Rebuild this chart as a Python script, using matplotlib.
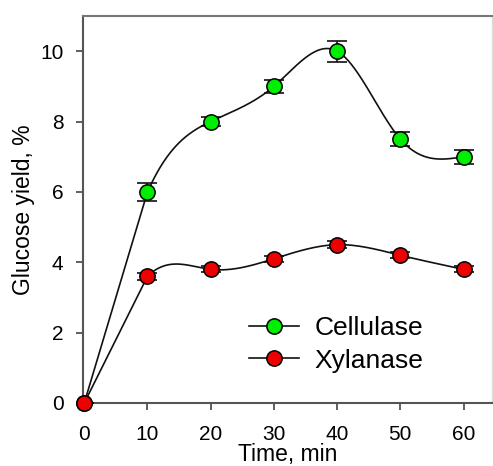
import matplotlib
matplotlib.use("Agg")
import matplotlib.pyplot as plt
import numpy as np

plt.rcParams['font.family'] = ['Liberation Sans', 'DejaVu Sans']

##--- data
time      = [0, 10, 20, 30, 40, 50, 60]
cellulase = [0, 6.0, 8.0, 9.0, 10.0, 7.5, 7.0]
cell_err  = [0, 0.25, 0.12, 0.18, 0.3, 0.2, 0.2]
xylanase  = [0, 3.6, 3.8, 4.1, 4.5, 4.2, 3.8]
xyl_err   = [0, 0.1, 0.08, 0.08, 0.1, 0.08, 0.08]


def curve(x, y, n=300):
    # natural cubic spline through the points (only to draw the line),
    # with the first segment from the origin kept straight
    x = np.asarray(x, float); y = np.asarray(y, float)
    k = len(x); h = np.diff(x)
    A = np.zeros((k, k)); b = np.zeros(k)
    A[0, 0] = A[-1, -1] = 1
    for i in range(1, k - 1):
        A[i, i-1] = h[i-1]; A[i, i] = 2*(h[i-1] + h[i]); A[i, i+1] = h[i]
        b[i] = 6*((y[i+1]-y[i])/h[i] - (y[i]-y[i-1])/h[i-1])
    M = np.linalg.solve(A, b)
    xs = np.linspace(x[1], x[-1], n)
    idx = np.clip(np.searchsorted(x, xs) - 1, 1, k - 2)
    x0, x1 = x[idx], x[idx+1]; hh = x1 - x0
    ys = (M[idx]*(x1-xs)**3/(6*hh) + M[idx+1]*(xs-x0)**3/(6*hh)
          + (y[idx]/hh - M[idx]*hh/6)*(x1-xs) + (y[idx+1]/hh - M[idx+1]*hh/6)*(xs-x0))
    return np.r_[x[0], xs], np.r_[y[0], ys]


fig = plt.figure(figsize=(4.93, 4.66), dpi=100)
ax = fig.add_axes([83/493, 63/466, 409/493, 387/466])

for y, e, col, lab in [(cellulase, cell_err, '#00ee00', 'Cellulase'),
                       (xylanase, xyl_err, '#ee0000', 'Xylanase')]:
    xs, ys = curve(time, y)
    ax.plot(xs, ys, color='#111111', lw=1.2, zorder=2)
    ax.errorbar(time, y, yerr=e, fmt='none', ecolor='#111111', elinewidth=1.2,
                capsize=7, capthick=1.2, zorder=3)
    ax.plot(time, y, 'o', ms=11, mfc=col, mec='black', mew=1.1, zorder=4,
            clip_on=False)
    ax.plot([], [], '-o', color='#111111', lw=1.2, ms=11, mfc=col, mec='black',
            mew=1.1, label=lab)

ax.set_xlim(-0.2, 64.5)
ax.set_ylim(0, 11)
ax.set_xticks(range(0, 61, 10))
ax.set_yticks(range(0, 11, 2))
ax.tick_params(axis='x', direction='out', length=5, width=1.2, pad=11,
               labelsize=15, color='#444444')
ax.tick_params(axis='y', direction='out', length=5, width=1.2, pad=9,
               labelsize=15, color='#444444')
for s in ax.spines.values():
    s.set_color('#555555'); s.set_linewidth(1.5)
ax.spines['top'].set_color('#777777')
ax.spines['right'].set_color('#dddddd')
ax.spines['right'].set_linewidth(1.0)
ax.set_xlabel('Time, min', fontsize=16.5, labelpad=-1)
ax.set_ylabel('Glucose yield, %', fontsize=16.5, labelpad=4)
ax.legend(loc='center left', bbox_to_anchor=(0.405, 0.152), frameon=False,
          fontsize=19, handlelength=1.9, handletextpad=0.6, labelspacing=0.33,
          borderpad=0, borderaxespad=0)

fig.savefig('out.png', dpi=100)
